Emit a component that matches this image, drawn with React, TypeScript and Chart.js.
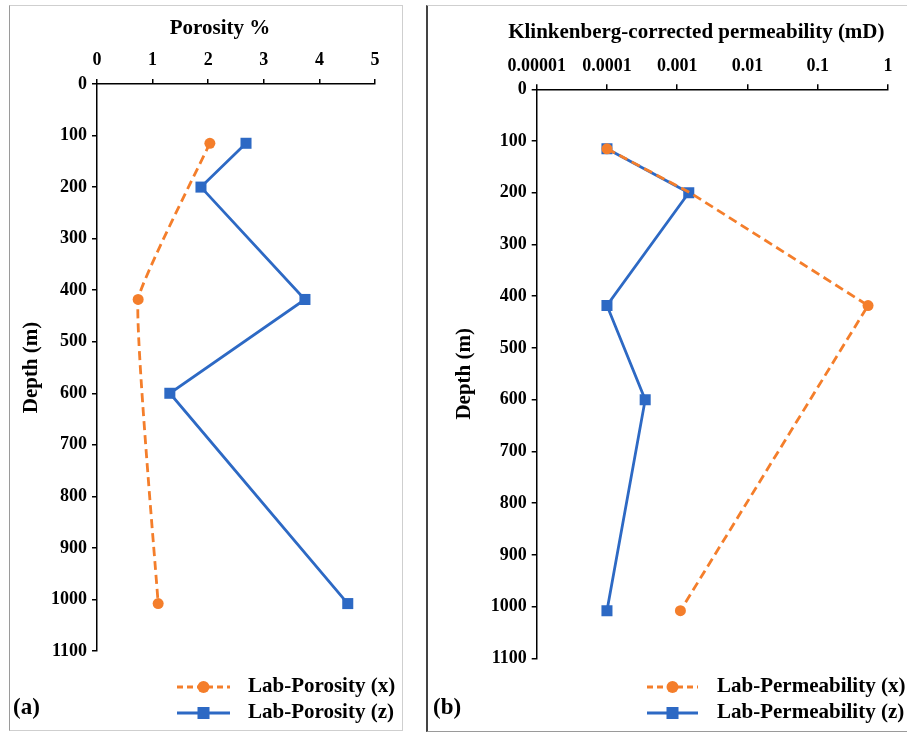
import React, { useEffect, useRef } from 'react';
import { Chart, registerables } from 'chart.js';

Chart.register(...registerables);

const FONT = "'Liberation Serif', 'Times New Roman', serif";
const ORANGE = '#F47E2B';
const BLUE = '#2D69C4';

// ---- Panel (a): porosity ----
const porosityXDepth = [115, 418, 1008];
const porosityX = [2.03, 0.74, 1.1];
const porosityZDepth = [115, 200, 418, 600, 1008];
const porosityZ = [2.68, 1.87, 3.74, 1.31, 4.51];
const porosityMin = 0;
const porosityMax = 5;

// ---- Panel (b): permeability ----
const permXDepth = [115, 200, 418, 1008];
const permX = [0.0001, 0.00153, 0.52, 0.00111];
const permXMarkerShown = [true, false, true, true];
const permZDepth = [115, 200, 418, 600, 1008];
const permZ = [0.0001, 0.00146, 0.0001, 0.00035, 0.0001];
const permTickValues = [0.00001, 0.0001, 0.001, 0.01, 0.1, 1];
const permTickLabels = ['0.00001', '0.0001', '0.001', '0.01', '0.1', '1'];

// ---- shared depth axis ----
const depthMin = 0;
const depthMax = 1100;
const depthStep = 100;

const legendA = ['Lab-Porosity (x)', 'Lab-Porosity (z)'];
const legendB = ['Lab-Permeability (x)', 'Lab-Permeability (z)'];

function toPoints(xs: number[], ys: number[]) {
  return xs.map((x, i) => ({ x, y: ys[i] }));
}

function overlayPlugin(cfg: any) {
  return {
    id: 'overlay',
    afterDraw(chart: any) {
      const ctx = chart.ctx;
      const ca = chart.chartArea;
      ctx.save();
      ctx.fillStyle = '#000';
      ctx.textBaseline = 'middle';
      ctx.textAlign = 'center';
      ctx.font = `bold 21px ${FONT}`;
      ctx.fillText(cfg.xTitle, (ca.left + ca.right) / 2 + cfg.titleDx, cfg.titleY);

      cfg.legend.forEach((item: any, i: number) => {
        const y = cfg.legendY[i];
        ctx.strokeStyle = item.color;
        ctx.lineWidth = 3;
        ctx.setLineDash(item.dash);
        ctx.beginPath();
        ctx.moveTo(cfg.lx0, y);
        ctx.lineTo(cfg.lx1, y);
        ctx.stroke();
        ctx.setLineDash([]);
        ctx.fillStyle = item.color;
        const cx = (cfg.lx0 + cfg.lx1) / 2;
        if (item.marker === 'circle') {
          ctx.beginPath();
          ctx.arc(cx, y, 6, 0, Math.PI * 2);
          ctx.fill();
        } else {
          ctx.fillRect(cx - 6, y - 6, 12, 12);
        }
        ctx.fillStyle = '#000';
        ctx.textAlign = 'left';
        ctx.font = `bold 21px ${FONT}`;
        ctx.fillText(item.text, cfg.tx, y);
      });

      ctx.font = `bold 23px ${FONT}`;
      ctx.textAlign = 'left';
      ctx.fillText(cfg.label, cfg.labelX, cfg.labelY);
      ctx.restore();
    },
  };
}

function depthAxis(width: number, titlePad: number) {
  return {
    type: 'linear',
    reverse: true,
    min: depthMin,
    max: depthMax,
    afterFit: (s: any) => {
      s.width = width;
    },
    ticks: {
      stepSize: depthStep,
      color: '#000',
      padding: 5,
      font: { family: FONT, size: 18, weight: 'bold' },
      callback: (v: any) => String(v),
    },
    grid: { drawOnChartArea: false, drawTicks: true, tickLength: 5, color: '#000', lineWidth: 1.5 },
    border: { display: true, color: '#000', width: 1.5 },
    title: {
      display: true,
      text: 'Depth (m)',
      color: '#000',
      font: { family: FONT, size: 21, weight: 'bold' },
      padding: { top: titlePad, bottom: 0 },
    },
  };
}

function makeConfigA(): any {
  return {
    type: 'scatter',
    data: {
      datasets: [
        {
          label: legendA[0],
          data: toPoints(porosityX, porosityXDepth),
          showLine: true,
          borderColor: ORANGE,
          backgroundColor: ORANGE,
          borderWidth: 2.8,
          borderDash: [9, 5],
          tension: 0.1,
          pointStyle: 'circle',
          pointRadius: 5.5,
          pointBorderWidth: 0,
        },
        {
          label: legendA[1],
          data: toPoints(porosityZ, porosityZDepth),
          showLine: true,
          borderColor: BLUE,
          backgroundColor: BLUE,
          borderWidth: 2.8,
          tension: 0,
          pointStyle: 'rect',
          pointRadius: 7.8,
          pointBorderWidth: 0,
        },
      ],
    },
    options: {
      animation: false,
      responsive: false,
      devicePixelRatio: 1,
      layout: { padding: { left: 0, top: 0, right: 27, bottom: 79 } },
      plugins: { legend: { display: false }, tooltip: { enabled: false } },
      scales: {
        x: {
          type: 'linear',
          position: 'top',
          min: porosityMin,
          max: porosityMax,
          afterFit: (s: any) => {
            s.height = 78;
          },
          ticks: {
            stepSize: 1,
            color: '#000',
            padding: 8,
            font: { family: FONT, size: 18, weight: 'bold' },
          },
          grid: { drawOnChartArea: false, drawTicks: true, tickLength: 5, color: '#000', lineWidth: 1.5 },
          border: { display: true, color: '#000', width: 1.5 },
        },
        y: depthAxis(87, 9),
      },
    },
    plugins: [
      overlayPlugin({
        xTitle: 'Porosity %',
        titleDx: -16,
        titleY: 23,
        lx0: 167,
        lx1: 220,
        tx: 238,
        legendY: [681, 707],
        legend: [
          { text: legendA[0], color: ORANGE, dash: [6, 4], marker: 'circle' },
          { text: legendA[1], color: BLUE, dash: [], marker: 'rect' },
        ],
        label: '(a)',
        labelX: 3,
        labelY: 702,
      }),
    ],
  };
}

function makeConfigB(): any {
  return {
    type: 'scatter',
    data: {
      datasets: [
        {
          label: legendB[0],
          data: toPoints(permX, permXDepth),
          showLine: true,
          borderColor: ORANGE,
          backgroundColor: ORANGE,
          borderWidth: 2.8,
          borderDash: [9, 5],
          tension: 0,
          pointStyle: 'circle',
          pointRadius: permXMarkerShown.map((s) => (s ? 5.5 : 0)),
          pointBorderWidth: 0,
        },
        {
          label: legendB[1],
          data: toPoints(permZ, permZDepth),
          showLine: true,
          borderColor: BLUE,
          backgroundColor: BLUE,
          borderWidth: 2.8,
          tension: 0,
          pointStyle: 'rect',
          pointRadius: 7.8,
          pointBorderWidth: 0,
        },
      ],
    },
    options: {
      animation: false,
      responsive: false,
      devicePixelRatio: 1,
      layout: { padding: { left: 0, top: 0, right: 19, bottom: 71.7 } },
      plugins: { legend: { display: false }, tooltip: { enabled: false } },
      scales: {
        x: {
          type: 'logarithmic',
          position: 'top',
          min: permTickValues[0],
          max: permTickValues[permTickValues.length - 1],
          afterFit: (s: any) => {
            s.height = 83.3;
          },
          afterBuildTicks: (s: any) => {
            s.ticks = permTickValues.map((value) => ({ value, major: true }));
          },
          ticks: {
            color: '#000',
            padding: 7,
            autoSkip: false,
            maxRotation: 0,
            font: { family: FONT, size: 18, weight: 'bold' },
            callback: (_v: any, i: number) => permTickLabels[i],
          },
          grid: { drawOnChartArea: false, drawTicks: true, tickLength: 5, color: '#000', lineWidth: 1.5 },
          border: { display: true, color: '#000', width: 1.5 },
        },
        y: depthAxis(108.7, 24),
      },
    },
    plugins: [
      overlayPlugin({
        xTitle: 'Klinkenberg-corrected permeability (mD)',
        titleDx: -16,
        titleY: 27,
        lx0: 219,
        lx1: 270,
        tx: 289,
        legendY: [681, 707],
        legend: [
          { text: legendB[0], color: ORANGE, dash: [6, 4], marker: 'circle' },
          { text: legendB[1], color: BLUE, dash: [], marker: 'rect' },
        ],
        label: '(b)',
        labelX: 5,
        labelY: 702,
      }),
    ],
  };
}

function ChartCanvas({ make, left, top, width, height }: any) {
  const ref = useRef<HTMLCanvasElement>(null);
  useEffect(() => {
    if (!ref.current) return;
    const chart = new Chart(ref.current, make());
    return () => chart.destroy();
  }, [make]);
  return (
    <canvas
      ref={ref}
      width={width}
      height={height}
      style={{ position: 'absolute', left, top, width, height }}
    />
  );
}

export default function App() {
  return (
    <div
      style={{
        position: 'fixed',
        left: 0,
        top: 0,
        width: 907,
        height: 733,
        overflow: 'hidden',
        background: '#fff',
      }}
    >
      <div
        style={{
          position: 'absolute',
          left: 9,
          top: 5,
          width: 394,
          height: 726,
          boxSizing: 'border-box',
          borderTop: '1px solid #cfcfcf',
          borderRight: '1.5px solid #cfcfcf',
          borderBottom: '1px solid #cfcfcf',
          borderLeft: '1.5px solid #9a9a9a',
        }}
      />
      <div
        style={{
          position: 'absolute',
          left: 426,
          top: 5,
          width: 500,
          height: 727,
          boxSizing: 'border-box',
          borderTop: '1px solid #cfcfcf',
          borderBottom: '1.5px solid #9a9a9a',
          borderLeft: '2px solid #444',
        }}
      />
      <ChartCanvas make={makeConfigA} left={10} top={6} width={392} height={724} />
      <ChartCanvas make={makeConfigB} left={428} top={6} width={479} height={724} />
    </div>
  );
}
